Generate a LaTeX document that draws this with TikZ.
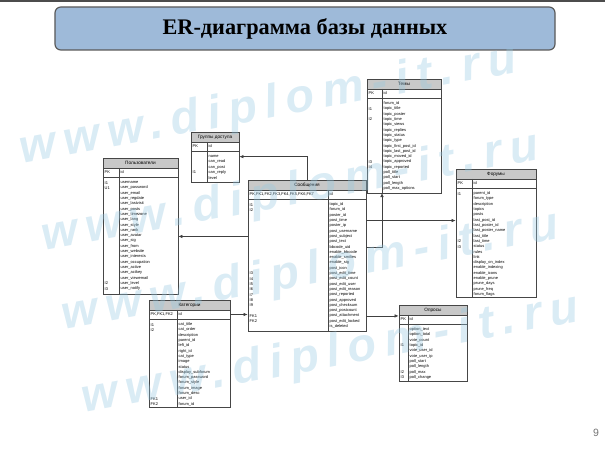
\documentclass[tikz,border=0pt]{standalone}
\usepackage{fontspec}
\setmainfont{Liberation Sans}
\newfontfamily\headfont{Liberation Serif}
\newfontfamily\wmfont[LetterSpace=18]{Liberation Sans}
\usetikzlibrary{arrows.meta,fit}
\definecolor{titleblue}{RGB}{158,186,217}
\definecolor{hdrgray}{RGB}{200,200,200}
\definecolor{tblgray}{RGB}{70,70,70}
\definecolor{wmblue}{RGB}{150,200,225}
% table: name, x1, y1, x2, y2, divider x, title, pk cell, key/field list
\newcommand\ertable[9]{%
  \node[tbl, fit={(#2,#3) (#4,#5)}] (#1) {};
  \draw[tblline, fill=hdrgray] (#2,#3) rectangle (#4,{#3+10});
  \node[ttl] (#1-ttl) at ({(#2+#4)/2},{#3+5}) {#7};
  \draw[tblline] (#2,{#3+19}) -- (#4,{#3+19});
  \draw[tblline] (#6,{#3+10}) -- (#6,#5);
  \coordinate (#1-div) at (#6,#5);
  \node[cell] (#1-pk) at ({#2+1.5},{#3+14.5}) {#8};
  \node[cell] (#1-id) at ({#6+1.5},{#3+14.5}) {id};
  \foreach \k/\f [count=\i] in {#9} {
    \node[cell] (#1-k\i) at ({#2+1.5},{#3+22+(\i-0.5)*5.3}) {\k};
    \node[cell] (#1-f\i) at ({#6+1.5},{#3+22+(\i-0.5)*5.3}) {\f};
  }%
}
\catcode`\_=12
\begin{document}
\begin{tikzpicture}[x=0.03cm, y=-0.03cm,
  tbl/.style={draw=tblgray, fill=white, line width=0.6pt, inner sep=0pt},
  tblline/.style={draw=tblgray, line width=0.6pt},
  ttl/.style={font=\fontsize{4}{4}\selectfont, inner sep=0pt},
  cell/.style={anchor=west, font=\fontsize{3.4}{3.4}\selectfont, inner sep=0pt},
  link/.style={draw=black!75, line width=0.5pt, -{Latex[length=3.5pt,width=3pt]}},
  titlebox/.style={draw=black!65, line width=1pt, fill=titleblue, rounded corners=5pt,
    minimum width=15cm, minimum height=1.29cm,
    font=\headfont\bfseries\fontsize{19}{19}\selectfont},
  wm/.style={text=wmblue, text opacity=0.35, rotate=10.5, inner sep=0pt,
    font=\wmfont\bfseries\itshape\fontsize{40}{40}\selectfont}]
\useasboundingbox (0,0) rectangle (605,460);
\fill[black!70] (0,0) rectangle (605,2.5);
\node[titlebox] (title) at (305,28.5) {ER-диаграмма базы данных};
\node[font=\fontsize{9}{9}\selectfont, text=black!55] (pnum) at (596,433) {9};

\ertable{users}{103}{158}{178}{294}{119}{Пользователи}{PK}{I1/username, U1/user_password,
  {}/user_email, {}/user_regdate, {}/user_lastvisit, {}/user_posts, {}/user_timezone,
  {}/user_lang, {}/user_style, {}/user_rank, {}/user_avatar, {}/user_sig, {}/user_from,
  {}/user_website, {}/user_interests, {}/user_occupation, {}/user_active, {}/user_actkey,
  {}/user_viewemail, I2/user_level, I3/user_notify}
\ertable{grp}{191}{132}{239}{182}{207}{Группы доступа}{PK}{{}/name, {}/can_read,
  {}/can_post, I1/can_reply, {}/level}
\ertable{msg}{248}{180}{366}{331}{328}{Сообщения}{PK,FK1,FK2,FK3,FK4,FK5,FK6,FK7}{I1/topic_id,
  I2/forum_id, {}/poster_id, {}/post_time, {}/poster_ip, {}/post_username, {}/post_subject,
  {}/post_text, {}/bbcode_uid, {}/enable_bbcode, {}/enable_smilies, {}/enable_sig,
  {}/post_icon, I3/post_edit_time, I4/post_edit_count, I5/post_edit_user,
  I6/post_edit_reason, I7/post_reported, I8/post_approved, I9/post_checksum,
  {}/post_postcount, FK1/post_attachment, FK2/post_edit_locked, {}/is_deleted}
\ertable{tpc}{367}{79}{441}{193}{382}{Темы}{PK}{{}/forum_id, I1/topic_title,
  {}/topic_poster, I2/topic_time, {}/topic_views, {}/topic_replies, {}/topic_status,
  {}/topic_type, {}/topic_first_post_id, {}/topic_last_post_id, {}/topic_moved_id,
  I3/topic_approved, I4/topic_reported, {}/poll_title, {}/poll_start, {}/poll_length,
  {}/poll_max_options}
\ertable{frm}{456}{169}{536}{297}{472}{Форумы}{PK}{I1/parent_id, {}/forum_type,
  {}/description, {}/topics, {}/posts, {}/last_post_id, {}/last_poster_id,
  {}/last_poster_name, {}/last_title, I2/last_time, I3/status, {}/rules, {}/link,
  {}/display_on_index, {}/enable_indexing, {}/enable_icons, {}/enable_prune,
  {}/prune_days, {}/prune_freq, {}/forum_flags}
\ertable{cat}{149}{300}{230}{407}{177}{Категории}{PK,FK1,FK2}{I1/cat_title, I2/cat_order,
  {}/description, {}/parent_id, {}/left_id, {}/right_id, {}/cat_type, {}/image, {}/status,
  {}/display_subforum, {}/forum_password, {}/forum_style, {}/forum_image, {}/forum_desc,
  FK1/user_id, FK2/forum_id}
\ertable{pol}{399}{305}{467}{381}{408}{Опросы}{PK}{{}/option_text, {}/option_total,
  {}/vote_count, I1/topic_id, {}/vote_user_id, {}/vote_user_ip, {}/poll_start,
  {}/poll_length, I2/poll_max, I3/poll_change}

% relations
\draw[link] (msg.west |- msg-f7) -- (users.east |- msg-f7);
\draw[link] (msg.north) |- (grp.east |- grp-f1);
\draw[link] (msg.east |- msg-f9) -| (tpc-div);
\draw[link] (msg.east |- msg-f4) -- (frm.west |- msg-f4);
\draw[link] (msg.east |- msg-f22) -- (pol.west |- msg-f22);
\draw[link] (cat.east |- cat-pk) -- (msg.west |- cat-pk);

% watermark
\foreach \x/\y [count=\n] in {268/106, 290/193, 310/272, 330/355}
  \node[wm] (wm\n) at (\x,\y) {www.diplom-it.ru};
\end{tikzpicture}
\end{document}
